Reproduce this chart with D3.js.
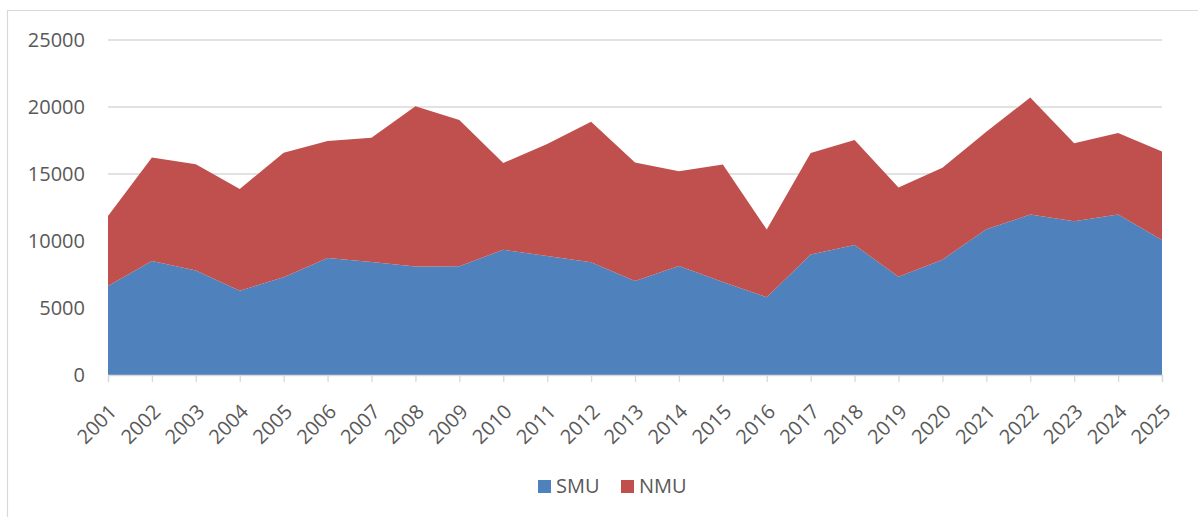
<!DOCTYPE html>
<html>
<head>
<meta charset="utf-8">
<script src="https://cdn.jsdelivr.net/npm/d3@7"></script>
<style>
  html, body { margin: 0; padding: 0; background: #fff; }
  svg { display: block; font-family: "Open Sans", sans-serif; }
</style>
</head>
<body>
<svg id="chart" width="1198" height="517"></svg>
<script>
const years = ["2001","2002","2003","2004","2005","2006","2007","2008","2009","2010","2011","2012","2013","2014","2015","2016","2017","2018","2019","2020","2021","2022","2023","2024","2025"];
const smu = [6640, 8510, 7790, 6290, 7290, 8730, 8430, 8090, 8110, 9350, 8880, 8410, 7020, 8130, 6940, 5800, 9000, 9700, 7340, 8610, 10870, 11970, 11470, 11970, 10080];
const totals = [11870, 16240, 15720, 13880, 16590, 17460, 17710, 20050, 19030, 15820, 17240, 18900, 15850, 15200, 15700, 10850, 16570, 17540, 14000, 15470, 18160, 20700, 17290, 18060, 16670];
const nmu = totals.map((t, i) => t - smu[i]);
const seriesNames = ["SMU", "NMU"];
const seriesColors = ["#4F81BD", "#C0504D"];
const yTicks = [0, 5000, 10000, 15000, 20000, 25000];

const svg = d3.select("#chart");

// outer chart border (top & left visible)
svg.append("path")
  .attr("d", "M7.5,517 L7.5,10.5 L1198,10.5")
  .attr("fill", "none").attr("stroke", "#d9d9d9").attr("stroke-width", 1.2);

const x = d3.scalePoint().domain(years).range([108, 1162]);
const y = d3.scaleLinear().domain([0, 25000]).range([375, 40]);

// gridlines
svg.append("g").selectAll("line").data(yTicks.slice(1)).join("line")
  .attr("x1", 108).attr("x2", 1162)
  .attr("y1", d => y(d)).attr("y2", d => y(d))
  .attr("stroke", "#d9d9d9").attr("stroke-width", 1.3);

const table = years.map((yr, i) => ({ year: yr, SMU: smu[i], NMU: nmu[i] }));
const stack = d3.stack().keys(seriesNames)(table);
const area = d3.area()
  .x(d => x(d.data.year))
  .y0(d => y(d[0]))
  .y1(d => y(d[1]));

svg.append("g").selectAll("path").data(stack).join("path")
  .attr("d", area)
  .attr("fill", (d, i) => seriesColors[i]);

// y axis labels
svg.append("g").selectAll("text").data(yTicks).join("text")
  .attr("x", 85).attr("y", d => y(d))
  .attr("dy", "0.35em")
  .attr("text-anchor", "end")
  .attr("font-size", 20).attr("fill", "#595959")
  .text(d => d);

// x axis line and ticks
const xAxis = d3.axisBottom(x).tickSize(7).tickFormat("");
const gx = svg.append("g").attr("transform", "translate(0,375)").call(xAxis);
gx.select(".domain").attr("stroke", "#d9d9d9").attr("stroke-width", 1.3);
gx.selectAll(".tick line").attr("stroke", "#d9d9d9").attr("stroke-width", 1.3);

// x labels rotated
svg.append("g").selectAll("text").data(years).join("text")
  .attr("transform", d => `translate(${x(d) + 5},${408}) rotate(-45)`)
  .attr("text-anchor", "end")
  .attr("dy", "0.35em")
  .attr("font-size", 20).attr("fill", "#595959")
  .text(d => d);

// legend
const legend = svg.append("g");
const legendItems = [{ name: "SMU", x: 538 }, { name: "NMU", x: 621 }];
legendItems.forEach((it, i) => {
  legend.append("rect").attr("x", it.x).attr("y", 480).attr("width", 13).attr("height", 13)
    .attr("fill", seriesColors[i]);
  legend.append("text").attr("x", it.x + 18).attr("y", 493)
    .attr("font-size", 20).attr("fill", "#595959").text(it.name);
});
</script>
</body>
</html>
